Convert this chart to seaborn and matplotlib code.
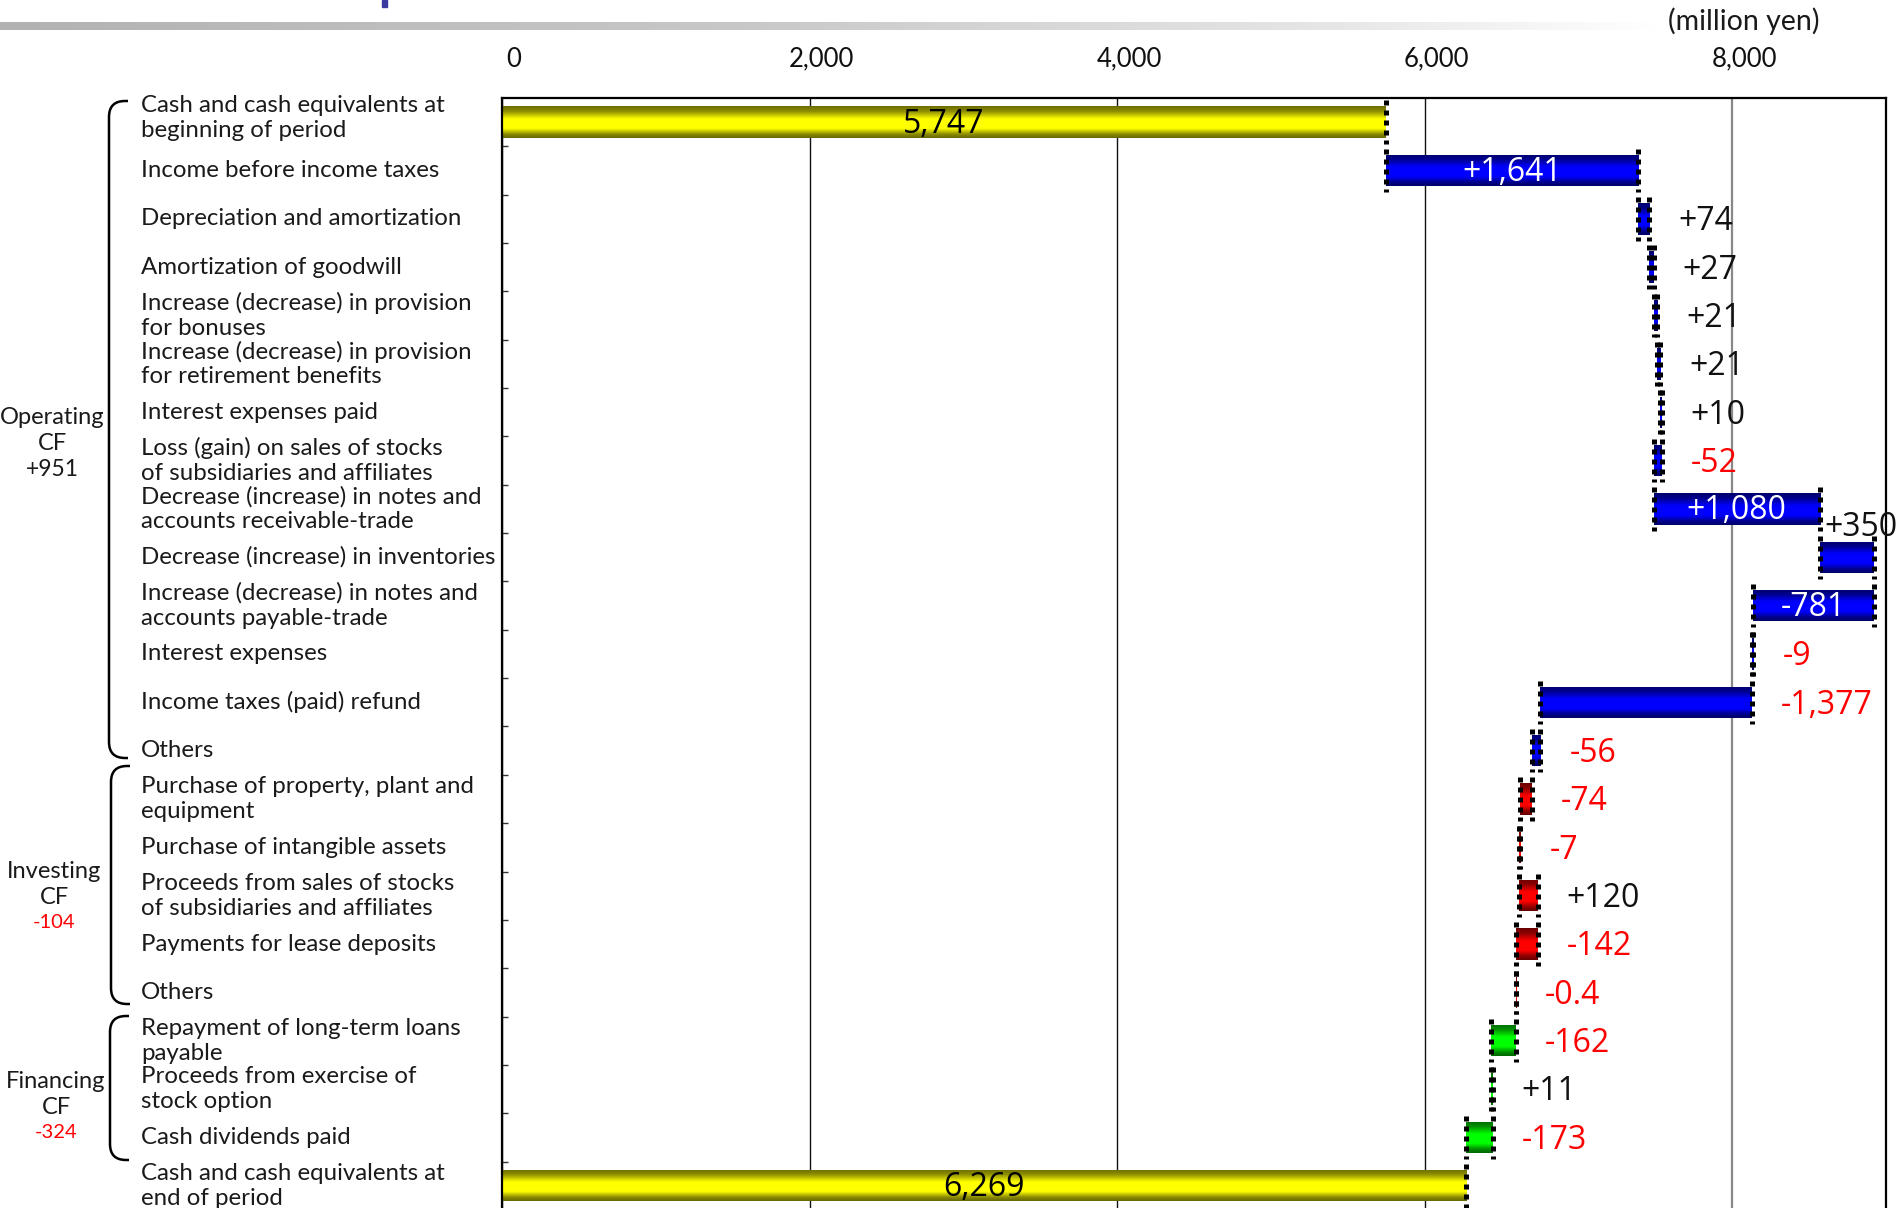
import numpy as np
import pandas as pd
import seaborn as sns
import matplotlib.pyplot as plt
from matplotlib.colors import LinearSegmentedColormap
from matplotlib.path import Path
from matplotlib.patches import PathPatch, Rectangle
from matplotlib.transforms import blended_transform_factory, ScaledTranslation

# ---- data (million yen) ----
categories = [
    "Cash and cash equivalents at\nbeginning of period",
    "Income before income taxes",
    "Depreciation and amortization",
    "Amortization of goodwill",
    "Increase (decrease) in provision\nfor bonuses",
    "Increase (decrease) in provision\nfor retirement benefits",
    "Interest expenses paid",
    "Loss (gain) on sales of stocks\nof subsidiaries and affiliates",
    "Decrease (increase) in notes and\naccounts receivable-trade",
    "Decrease (increase) in inventories",
    "Increase (decrease) in notes and\naccounts payable-trade",
    "Interest expenses",
    "Income taxes (paid) refund",
    "Others",
    "Purchase of property, plant and\nequipment",
    "Purchase of intangible assets",
    "Proceeds from sales of stocks\nof subsidiaries and affiliates",
    "Payments for lease deposits",
    "Others",
    "Repayment of long-term loans\npayable",
    "Proceeds from exercise of\nstock option",
    "Cash dividends paid",
    "Cash and cash equivalents at\nend of period",
]
start_cash = 5747
end_cash = 6269
changes = [1641, 74, 27, 21, 21, 10, -52, 1080, 350, -781, -9, -1377, -56,
           -74, -7, 120, -142, -0.4,
           -162, 11, -173]
sections = ["Operating"] * 13 + ["Investing"] * 5 + ["Financing"] * 3
section_names = ["Operating", "Investing", "Financing"]
section_totals = ["+951", "-104", "-324"]
x_ticks = [0, 2000, 4000, 6000, 8000]

# where each value label sits (row index -> placement), everything else goes right of the bar
label_inside = {0, 1, 8, 10, 22}
label_above = {9}

# figure size in pixels, used to place the decorations
W, H = 1901, 1208

bright = {"total": "#ffff00", "Operating": "#0000ff",
          "Investing": "#ff0000", "Financing": "#00ff00"}


def shade_cmap(color):
    # dark edges, bright middle (cylinder look)
    rgb = np.array(plt.matplotlib.colors.to_rgb(color))
    stops = [(0.0, rgb * 0.42), (0.16, rgb * 0.55), (0.40, rgb), (0.70, rgb),
             (0.88, rgb * 0.55), (1.0, rgb * 0.40)]
    return LinearSegmentedColormap.from_list("shade", [(p, tuple(c)) for p, c in stops])


def fig_xy(x, y):
    return x / W, 1 - y / H


def main():
    sns.set_theme(style="white")
    plt.rcParams["font.family"] = ["Lato", "DejaVu Sans"]

    # waterfall begin / end for every row
    begins = [0]
    ends = [start_cash]
    level = start_cash
    for c in changes:
        begins.append(level)
        level = level + c
        ends.append(level)
    begins.append(0)
    ends.append(end_cash)
    kinds = ["total"] + sections + ["total"]
    labels = [f"{start_cash:,}"] + [f"{c:+,}" for c in changes] + [f"{end_cash:,}"]

    df = pd.DataFrame({
        "row": range(len(categories)),
        "left": np.minimum(begins, ends),
        "size": np.abs(np.array(ends) - np.array(begins)),
    })

    fig = plt.figure(figsize=(W / 100, H / 100), dpi=100)
    ax = fig.add_axes([502 / W, 0.0, (1886 - 502) / W, 1 - 98 / H])

    sns.barplot(data=df, x="size", y="row", orient="y", left=df["left"].values,
                width=0.65, errorbar=None, color="#0000ff", linewidth=0,
                ax=ax, zorder=2)

    # gradient fill clipped to every bar
    for patch, kind in zip(ax.patches, kinds):
        patch.set_facecolor(bright[kind])
        x0, y0 = patch.get_x(), patch.get_y()
        w, h = patch.get_width(), patch.get_height()
        grad = np.linspace(0, 1, 128).reshape(-1, 1)
        im = ax.imshow(grad, cmap=shade_cmap(bright[kind]), aspect="auto",
                       extent=(x0, x0 + w, y0 + h, y0), origin="upper",
                       interpolation="bilinear", zorder=2.5)
        im.set_clip_path(patch)

    # dotted connectors at both ends of each bar
    for i, (b, e) in enumerate(zip(begins, ends)):
        xs = [e] if b == 0 else [b, e]
        ax.vlines(xs, i - 0.45, i + 0.45, colors="black",
                  linestyles=(0, (1, 1)), linewidth=3.6, zorder=3)

    # value labels
    val_font = ["Open Sans", "DejaVu Sans"]
    for i, (b, e, lab, kind) in enumerate(zip(begins, ends, labels, kinds)):
        neg = lab.startswith("-")
        out_col = "red" if neg else "#111111"
        if i in label_inside:
            col = "black" if kind == "total" else "white"
            ax.text((b + e) / 2, i + 0.04, lab, ha="center", va="center",
                    color=col, fontsize=23, family=val_font, zorder=4)
        elif i in label_above:
            ax.annotate(lab, (min(b, e), i - 0.62), xytext=(3, 0),
                        textcoords="offset points", ha="left", va="center",
                        color=out_col, fontsize=23, family=val_font, zorder=4,
                        annotation_clip=False)
        else:
            ax.annotate(lab, (max(b, e), i + 0.06), xytext=(21, 0),
                        textcoords="offset points", ha="left", va="center",
                        color=out_col, fontsize=23, family=val_font, zorder=4)

    # axes styling
    ax.set_xlim(0, 9000)
    ax.set_ylim(22.46, -0.5)
    ax.set_xlabel("")
    ax.set_ylabel("")
    ax.xaxis.tick_top()
    ax.set_xticks(x_ticks)
    ax.set_xticklabels([f"{t:,}" for t in x_ticks])
    ax.tick_params(axis="x", length=0, pad=19, labelsize=18.5, colors="#111111")
    shift = ScaledTranslation(12 / 100, 0, fig.dpi_scale_trans)
    for tl in ax.get_xticklabels():
        tl.set_transform(tl.get_transform() + shift)
    ax.set_yticks(np.arange(0.5, len(categories) - 1, 1.0))
    ax.set_yticklabels([])
    ax.tick_params(axis="y", direction="in", length=4.5, width=1, color="#333333", left=True)
    ax.grid(axis="x", color="#111111", linewidth=1)
    ax.grid(axis="y", visible=False)
    ax.xaxis.get_gridlines()[4].set_color("#888888")
    ax.xaxis.get_gridlines()[4].set_linewidth(1.6)
    ax.set_axisbelow(True)
    for side in ["left", "top", "right"]:
        ax.spines[side].set_visible(True)
        ax.spines[side].set_color("black")
        ax.spines[side].set_linewidth(1.6)
    ax.spines["bottom"].set_visible(False)

    # category labels on the left
    trans = blended_transform_factory(fig.transFigure, ax.transData)
    for i, cat in enumerate(categories):
        ax.text(141 / W, i - (0.08 if i == 0 else 0), cat, transform=trans,
                ha="left", va="center", fontsize=17.3, linespacing=1.22,
                color="#1a1a1a", clip_on=False)

    # section braces and names
    brace_px = [(109, 101, 758), (111, 766, 1004), (110, 1016, 1160)]
    name_px = [(52, 418), (54, 872), (56, 1082)]
    for (bx, yt, yb), (nx, ny), name, tot in zip(brace_px, name_px, section_names, section_totals):
        r = 16
        hook = bx + 19
        pts = [fig_xy(hook, yt), fig_xy(bx + r, yt), fig_xy(bx, yt), fig_xy(bx, yt + r),
               fig_xy(bx, yb - r), fig_xy(bx, yb), fig_xy(bx + r, yb), fig_xy(hook, yb)]
        codes = [Path.MOVETO, Path.LINETO, Path.CURVE3, Path.CURVE3,
                 Path.LINETO, Path.CURVE3, Path.CURVE3, Path.LINETO]
        fig.add_artist(PathPatch(Path(pts, codes), fill=False, lw=1.8,
                                 edgecolor="black", transform=fig.transFigure))
        fx, fy = fig_xy(nx, ny)
        fig.text(fx, fy, name, ha="center", va="center", fontsize=17, color="#1a1a1a")
        fx, fy = fig_xy(nx, ny + 25.5)
        fig.text(fx, fy, "CF", ha="center", va="center", fontsize=17, color="#1a1a1a")
        fx, fy = fig_xy(nx, ny + 51)
        neg = tot.startswith("-")
        fig.text(fx, fy, tot, ha="center", va="center",
                 fontsize=14.5 if neg else 16.5, color="red" if neg else "#1a1a1a")

    # unit note
    fx, fy = fig_xy(1819, 21)
    fig.text(fx, fy, "(million yen)", ha="right", va="center", fontsize=20.5, color="#1a1a1a")

    # header rule fading to the right, plus the cut-off title mark
    band = fig.add_axes([0, 1 - 30 / H, 1660 / W, 8 / H])
    fade = np.linspace(0, 1, 256).reshape(1, -1)
    band.imshow(fade, cmap=LinearSegmentedColormap.from_list(
        "fade", [(0, "#b2b2b2"), (0.45, "#c8c8c8"), (0.8, "#e6e6e6"), (1, "#ffffff")]),
        aspect="auto", extent=(0, 1, 0, 1))
    band.set_axis_off()
    fig.add_artist(Rectangle(fig_xy(382, 7), 5 / W, 7 / H, color="#3a3aa0",
                             transform=fig.transFigure))

    fig.savefig("out.png", dpi=100)


if __name__ == "__main__":
    main()
